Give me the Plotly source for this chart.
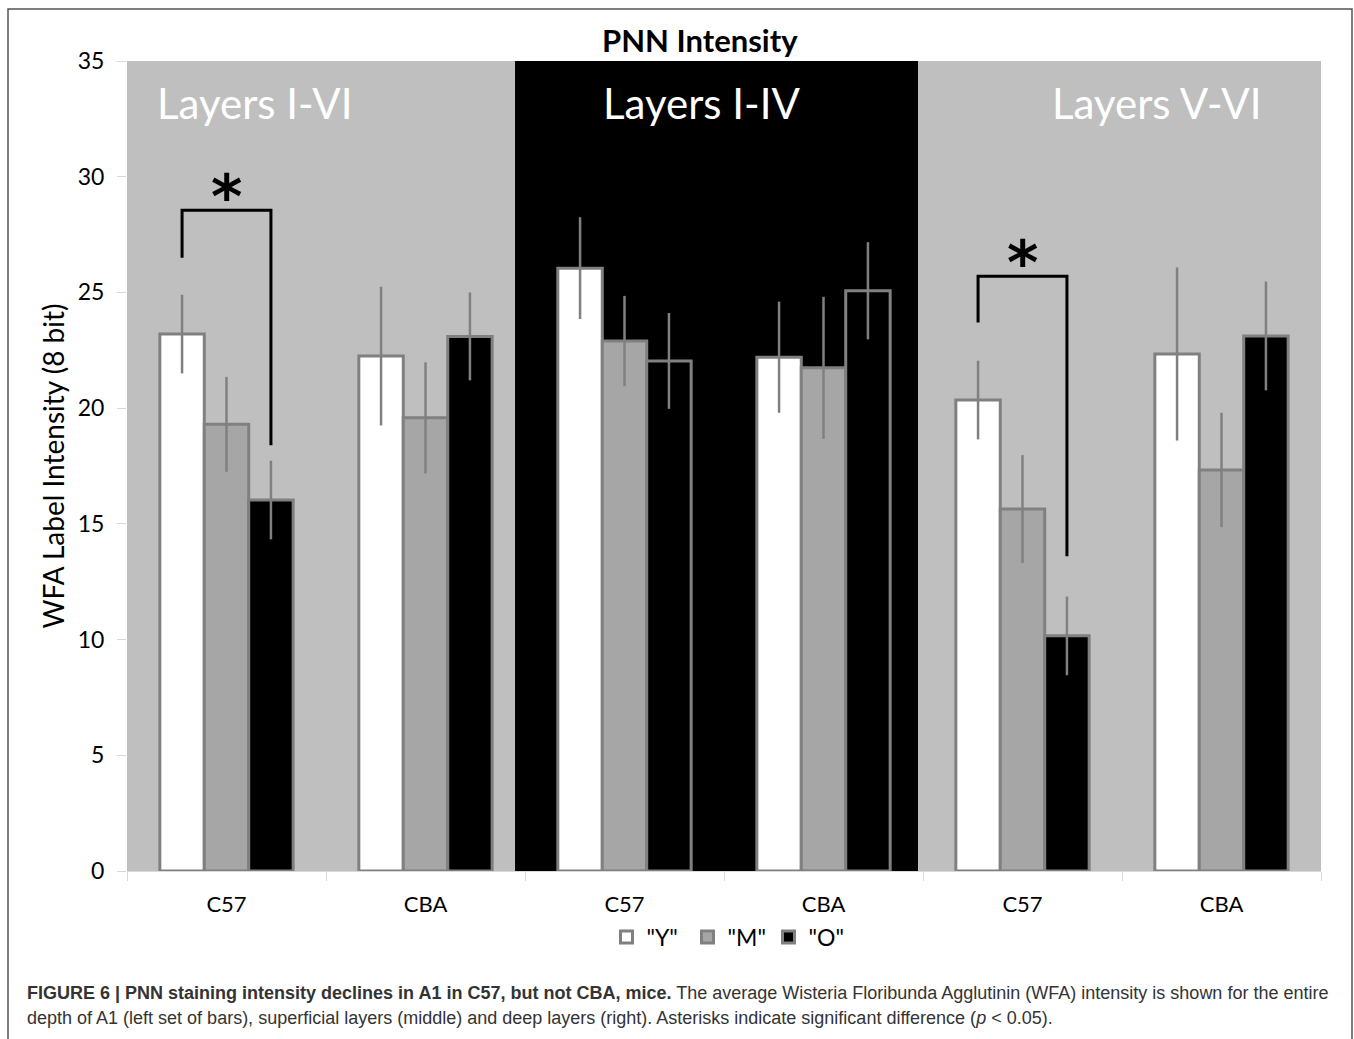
import plotly.graph_objects as go

# ---------------- data ----------------
categories = ["C57", "CBA", "C57", "CBA", "C57", "CBA"]
layer_labels = ["Layers I-VI", "Layers I-IV", "Layers V-VI"]
series_names = ['"Y"', '"M"', '"O"']
y_vals = [23.2, 22.25, 26.05, 22.2, 20.35, 22.34]
y_err = [1.7, 3.0, 2.2, 2.4, 1.7, 3.74]
m_vals = [19.3, 19.58, 22.9, 21.74, 15.64, 17.33]
m_err = [2.05, 2.4, 1.95, 3.07, 2.33, 2.47]
o_vals = [16.03, 23.1, 22.04, 25.07, 10.16, 23.12]
o_err = [1.7, 1.9, 2.07, 2.1, 1.7, 2.35]
# significance brackets: (category index, left-leg bottom, bracket top, right-leg bottom)
brackets = [(0, 26.5, 28.55, 18.4), (4, 23.7, 25.7, 13.6)]

FONT = "Lato, Open Sans, sans-serif"
W, H = 1354, 1039
L, R, T, B = 127, 33, 61, 168
BARGAP = 0.33

xs = list(range(len(categories)))
fig = go.Figure()
fills = ["#ffffff", "#a6a6a6", "#000000"]
for name, vals, errs, fc in zip(series_names, [y_vals, m_vals, o_vals], [y_err, m_err, o_err], fills):
    fig.add_trace(go.Bar(
        x=xs, y=vals, name=name,
        marker=dict(color=fc, line=dict(color="#808080", width=3)),
        error_y=dict(type="data", array=errs, color="#808080", thickness=2.5, width=0),
    ))

# background bands
band_defs = [(-0.5, 1.5, "#bfbfbf"), (1.45, 3.475, "#000000"), (3.475, 5.5, "#bfbfbf")]
shapes = []
for x0, x1, c in band_defs:
    shapes.append(dict(type="rect", xref="x", yref="y", x0=x0, x1=x1, y0=0, y1=35,
                       fillcolor=c, line=dict(width=0), layer="below"))

# brackets
off = (1 - BARGAP) / 3
annotations = []
for ci, lb, top, rb in brackets:
    xl, xr = ci - off, ci + off
    shapes.append(dict(type="path", xref="x", yref="y",
                       path=f"M {xl},{lb} L {xl},{top} L {xr},{top} L {xr},{rb}",
                       line=dict(color="#000000", width=3)))
    annotations.append(dict(x=ci, y=top, xref="x", yref="y", text="<b>*</b>", showarrow=False,
                            font=dict(family="DejaVu Sans", size=60, color="#000000"),
                            yanchor="bottom", yshift=-24))

# layer labels
label_x = [0.143, 2.389, 4.671]
for lx, txt in zip(label_x, layer_labels):
    annotations.append(dict(x=lx, y=33.19, xref="x", yref="y", text=txt, showarrow=False,
                            font=dict(family=FONT, size=42, color="#ffffff"),
                            xanchor="center", yanchor="middle"))

pw, ph = W - L - R, H - T - B
def px(x):
    return (x - L) / pw
def py(y):
    return (H - B - y) / ph

# title
annotations.append(dict(x=px(700), y=py(40), xref="paper", yref="paper", text="<b>PNN Intensity</b>",
                        showarrow=False, font=dict(family=FONT, size=31, color="#000000"),
                        xanchor="center", yanchor="middle"))

# caption
cap_font = "Liberation Sans, Arial, sans-serif"
annotations.append(dict(x=px(25), y=py(993), xref="paper", yref="paper", xanchor="left", yanchor="middle",
                        showarrow=False, align="left",
                        text="<b>FIGURE 6 | PNN staining intensity declines in A1 in C57, but not CBA, mice.</b> "
                             "The average Wisteria Floribunda Agglutinin (WFA) intensity is shown for the entire",
                        font=dict(family=cap_font, size=18, color="#333333")))
annotations.append(dict(x=px(25), y=py(1018), xref="paper", yref="paper", xanchor="left", yanchor="middle",
                        showarrow=False, align="left",
                        text="depth of A1 (left set of bars), superficial layers (middle) and deep layers (right). "
                             "Asterisks indicate significant difference (<i>p</i> &lt; 0.05).",
                        font=dict(family=cap_font, size=18, color="#333333")))

# outer frame
shapes.append(dict(type="rect", xref="paper", yref="paper", x0=px(8), x1=px(1352), y0=py(1045), y1=py(9),
                   line=dict(color="#555555", width=1.5), fillcolor="rgba(0,0,0,0)", layer="above"))

fig.update_layout(
    width=W, height=H,
    margin=dict(l=L, r=R, t=T, b=B, pad=0),
    paper_bgcolor="#ffffff", plot_bgcolor="#ffffff",
    barmode="group", bargap=BARGAP, bargroupgap=0,
    shapes=shapes, annotations=annotations,
    showlegend=True,
    legend=dict(orientation="h", x=px(728), xanchor="center", y=py(937), yanchor="middle",
                font=dict(family=FONT, size=23, color="#000000"),
                itemwidth=30, entrywidth=36, entrywidthmode="pixels",
                bgcolor="rgba(0,0,0,0)"),
    font=dict(family=FONT, color="#000000"),
)
fig.update_xaxes(
    range=[-0.5, 5.5], tickmode="array", tickvals=xs, ticktext=categories,
    ticks="", showgrid=False, zeroline=False,
    showline=True, linecolor="#d9d9d9", linewidth=1,
    tickfont=dict(family=FONT, size=22, color="#000000"), ticklabelstandoff=14,
    minor=dict(tickmode="array", tickvals=[i - 0.5 for i in range(len(categories) + 1)],
               ticks="outside", ticklen=9, tickcolor="#d9d9d9", tickwidth=1, showgrid=False),
)
fig.update_yaxes(
    range=[0, 35], dtick=5, tick0=0, ticks="outside", ticklen=9, tickcolor="#d9d9d9",
    showgrid=False, zeroline=False, showline=False,
    tickfont=dict(family=FONT, size=23, color="#000000"), ticklabelstandoff=8,
    title=dict(text="WFA Label Intensity (8 bit)", font=dict(family=FONT, size=28, color="#000000"), standoff=4),
)

fig.write_html("out.html")
